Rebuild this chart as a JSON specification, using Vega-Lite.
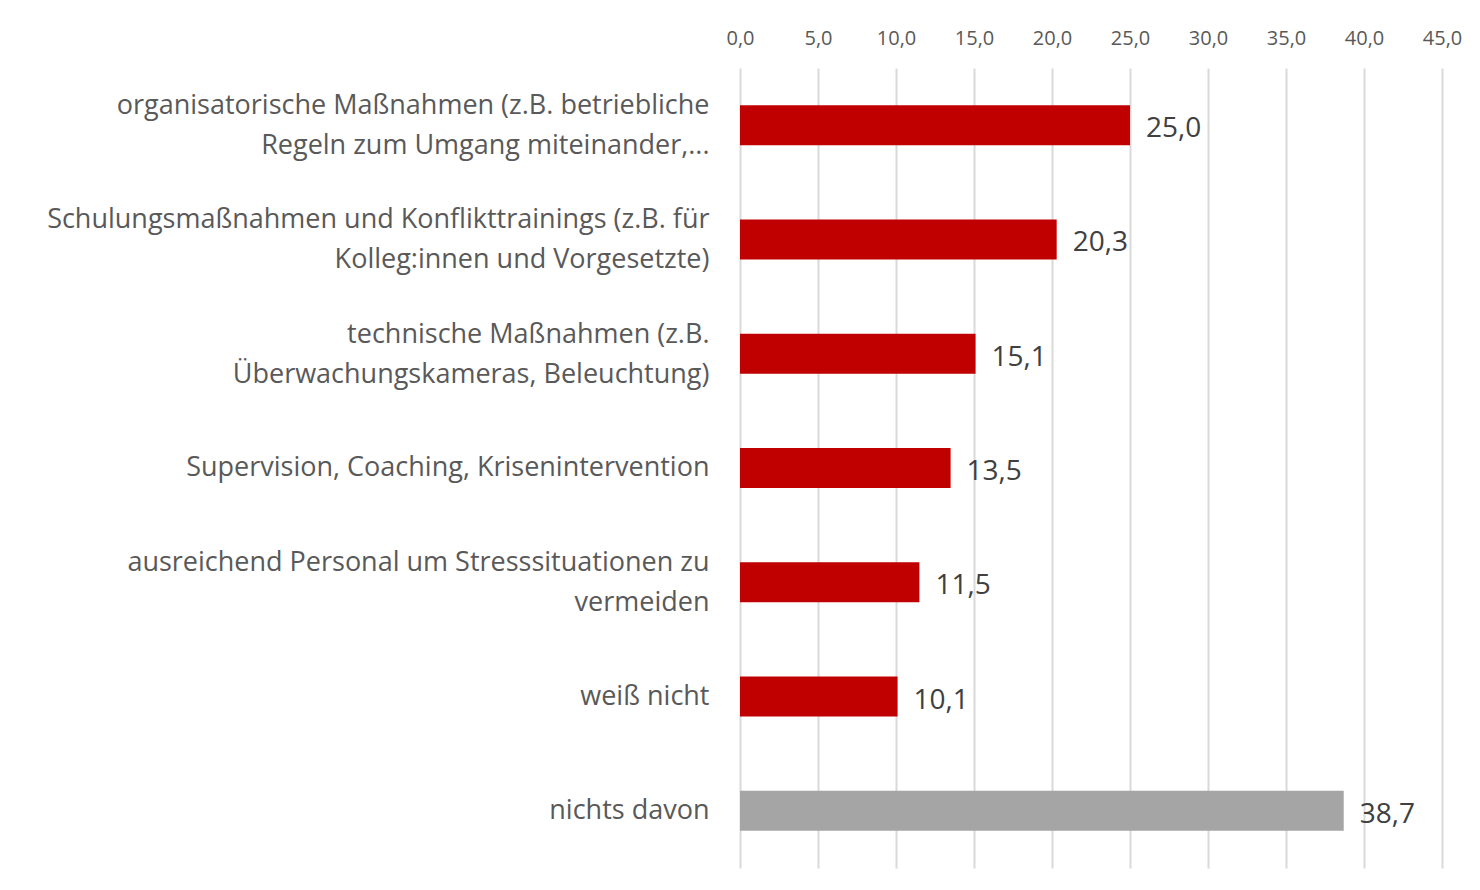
{
  "$schema": "https://vega.github.io/schema/vega-lite/v6.json",
  "width": 702,
  "height": 800,
  "autosize": {"type": "none"},
  "padding": {"left": 740, "top": 68, "right": 38, "bottom": 22},
  "background": "white",
  "config": {
    "locale": {"number": {"decimal": ",", "thousands": ".", "grouping": [3], "currency": ["", " €"]}},
    "view": {"stroke": null},
    "font": "Open Sans"
  },
  "data": {
    "values": [
      {"label": "organisatorische Maßnahmen (z.B. betriebliche|Regeln zum Umgang miteinander,...", "value": 25.0, "group": "Maßnahme"},
      {"label": "Schulungsmaßnahmen und Konflikttrainings (z.B. für|Kolleg:innen und Vorgesetzte)", "value": 20.3, "group": "Maßnahme"},
      {"label": "technische Maßnahmen (z.B.|Überwachungskameras, Beleuchtung)", "value": 15.1, "group": "Maßnahme"},
      {"label": "Supervision, Coaching, Krisenintervention", "value": 13.5, "group": "Maßnahme"},
      {"label": "ausreichend Personal um Stresssituationen zu|vermeiden", "value": 11.5, "group": "Maßnahme"},
      {"label": "weiß nicht", "value": 10.1, "group": "Maßnahme"},
      {"label": "nichts davon", "value": 38.7, "group": "nichts"}
    ]
  },
  "encoding": {
    "y": {
      "field": "label",
      "type": "nominal",
      "sort": null,
      "title": null,
      "scale": {"paddingInner": 0.65, "paddingOuter": 0.325},
      "axis": {
        "labelExpr": "split(datum.label, '|')",
        "labelFontSize": 27,
        "labelColor": "#595959",
        "labelLineHeight": 40,
        "labelPadding": 31,
        "labelLimit": 0,
        "labelOffset": {"condition": {"test": "indexof(datum.value, '|') >= 0", "value": -19}, "value": 0},
        "ticks": false,
        "domain": false,
        "grid": false
      }
    },
    "x": {
      "field": "value",
      "type": "quantitative",
      "title": null,
      "scale": {"domain": [0, 45], "nice": false},
      "axis": {
        "orient": "top",
        "values": [0, 5, 10, 15, 20, 25, 30, 35, 40, 45],
        "format": ".1f",
        "labelFontSize": 20,
        "labelColor": "#595959",
        "labelPadding": 20,
        "ticks": false,
        "domain": false,
        "grid": true,
        "gridColor": "#d9d9d9",
        "gridWidth": 2,
        "labelFlush": false
      }
    }
  },
  "layer": [
    {
      "mark": {"type": "bar"},
      "encoding": {
        "color": {
          "field": "group",
          "type": "nominal",
          "scale": {"domain": ["Maßnahme", "nichts"], "range": ["#C00000", "#A5A5A5"]},
          "legend": null
        }
      }
    },
    {
      "mark": {"type": "text", "align": "left", "baseline": "middle", "dx": 16, "dy": 4, "fontSize": 28, "color": "#404040"},
      "encoding": {
        "text": {"field": "value", "type": "quantitative", "format": ".1f"}
      }
    }
  ]
}
